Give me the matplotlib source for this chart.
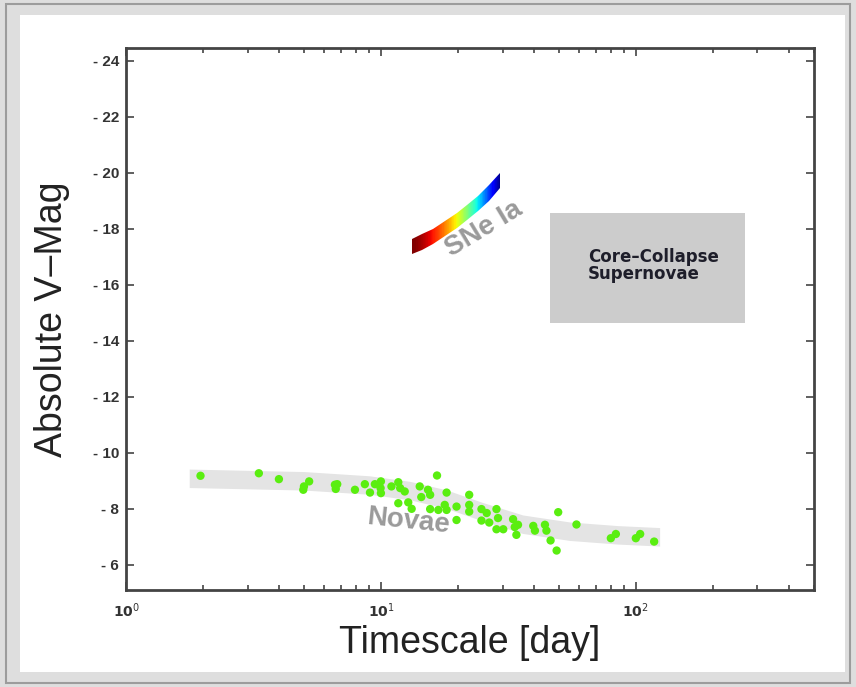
import numpy as np
import matplotlib
matplotlib.use("Agg")
import matplotlib.pyplot as plt
from matplotlib.patches import Rectangle, Polygon
from matplotlib.ticker import FixedLocator, FuncFormatter, LogLocator, NullLocator

plt.rcParams['font.family'] = ['Liberation Sans', 'DejaVu Sans']

# novae: timescale (days) and absolute V magnitude
nova_t = [1.96, 3.32, 3.98, 5.23, 4.99, 4.96, 6.60, 6.65, 6.74, 7.91,
          8.65, 9.06, 9.47, 10.0, 9.97, 10.0, 11.0, 11.7, 11.9, 12.4,
          11.7, 12.8, 13.2, 14.2, 14.4, 15.3, 15.6, 16.6, 18.1, 15.6,
          16.8, 17.8, 18.1, 19.8, 19.8, 22.2, 22.2, 22.2, 24.8, 26.0,
          24.8, 26.6, 28.4, 28.8, 28.4, 30.2, 33.0, 33.5, 34.0, 34.5,
          39.6, 40.2, 44.0, 44.6, 49.6, 46.3, 48.9, 58.5, 79.8, 83.5,
          100.0, 104.0, 118.0]
nova_mag = [-9.18, -9.27, -9.06, -8.98, -8.80, -8.68, -8.86, -8.71, -8.88, -8.68,
            -8.88, -8.58, -8.88, -8.98, -8.74, -8.56, -8.80, -8.95, -8.74, -8.62,
            -8.20, -8.23, -8.00, -8.80, -8.42, -8.68, -8.50, -9.19, -8.58, -7.99,
            -7.96, -8.14, -7.96, -8.08, -7.60, -8.50, -8.14, -7.90, -7.99, -7.85,
            -7.58, -7.51, -7.99, -7.67, -7.27, -7.27, -7.63, -7.35, -7.07, -7.43,
            -7.39, -7.22, -7.43, -7.22, -7.88, -6.87, -6.51, -7.44, -6.95, -7.10,
            -6.95, -7.10, -6.83]

# gray band following the novae
band_t = [1.77, 5.0, 9.0, 13.0, 18.0, 25.0, 36.0, 55.0, 85.0, 124.0]
band_mag = [-9.09, -9.00, -8.85, -8.65, -8.35, -7.90, -7.45, -7.20, -7.07, -7.00]
band_half = 0.33

# SNe Ia track (centre line)
snia_t = [13.2, 14.5, 16.0, 17.8, 19.8, 21.8, 24.0, 26.5, 29.3]
snia_mag = [-17.38, -17.53, -17.74, -18.00, -18.30, -18.58, -18.90, -19.28, -19.73]
snia_half = 0.27

# core-collapse region
cc_t = [46.0, 267.0]
cc_mag = [-18.57, -14.64]

yticks = [-24, -22, -20, -18, -16, -14, -12, -10, -8, -6]

W, H = 856, 687
fig = plt.figure(figsize=(W / 100, H / 100), dpi=100)
fig.patch.set_facecolor('#dedede')
fig.patches.append(Rectangle((6 / W, 4 / H), 844 / W, 679 / H, transform=fig.transFigure,
                             fill=False, edgecolor='#9c9c9c', lw=1.5, zorder=-2))
fig.patches.append(Rectangle((20 / W, 15 / H), 825 / W, 657 / H, transform=fig.transFigure,
                             facecolor='white', edgecolor='none', zorder=-1))

ax = fig.add_axes([126 / W, 97 / H, 688 / W, 542 / H])
ax.set_xscale('log')
ax.set_xlim(1, 500)
ax.set_ylim(-5.1, -24.46)

# novae band + points
bm = np.array(band_mag)
ax.fill_between(band_t, bm - band_half, bm + band_half, color='#e4e4e4', lw=0, zorder=1)
ax.scatter(nova_t, nova_mag, s=36, color='#5aee10', edgecolors='none', zorder=3)

# SNe Ia coloured track
sm = np.array(snia_mag)
verts = list(zip(snia_t, sm - snia_half)) + list(zip(snia_t[::-1], (sm + snia_half)[::-1]))
track = Polygon(verts, closed=True, transform=ax.transData)
xs = np.geomspace(12.5, 31, 160)
u = np.clip((np.log10(xs[:-1]) - np.log10(13.2)) / (np.log10(29.3) - np.log10(13.2)), 0, 1)
mesh = ax.pcolormesh(xs, [-21, -16.5], (1 - u ** 1.5)[None, :], cmap='jet', vmin=0, vmax=1,
                     shading='flat', zorder=2)
mesh.set_clip_path(track)

# core-collapse box
ax.add_patch(Rectangle((cc_t[0], cc_mag[0]), cc_t[1] - cc_t[0], cc_mag[1] - cc_mag[0],
                       facecolor='#cccccc', edgecolor='none', zorder=1))
ax.text(64.8, -16.68, 'Core\u2013Collapse\nSupernovae', fontsize=12, fontweight='bold',
        family=['DejaVu Sans'], ha='left', va='center', linespacing=0.95, color='#1e1e2a')

ax.text(25.3, -18.0, 'SNe Ia', rotation=31, color='#9a9a9a', fontsize=20,
        fontweight='bold', ha='center', va='center', zorder=4)
ax.text(12.8, -7.55, 'Novae', rotation=-6, color='#9a9a9a', fontsize=20,
        fontweight='bold', ha='center', va='center', zorder=4)

# axes styling
ax.yaxis.set_major_locator(FixedLocator(yticks))
ax.yaxis.set_minor_locator(NullLocator())
ax.yaxis.set_major_formatter(FuncFormatter(lambda v, p: '- %d' % abs(v)))
ax.xaxis.set_major_locator(LogLocator(base=10, numticks=10))
ax.xaxis.set_minor_locator(LogLocator(base=10, subs=np.arange(2, 10), numticks=20))
ax.xaxis.set_major_formatter(FuncFormatter(lambda v, p: r'$\mathbf{10}^{%d}$' % round(np.log10(v))))

ax.tick_params(which='both', direction='in', top=True, right=True, color='#444444', width=1.2)
ax.tick_params(which='major', length=6)
ax.tick_params(which='minor', length=3.5)
ax.tick_params(axis='y', labelsize=11, labelcolor='#333333', pad=5)
ax.tick_params(axis='x', labelsize=10, labelcolor='#333333', pad=8)
for lab in ax.get_yticklabels():
    lab.set_fontweight('bold')
for s in ax.spines.values():
    s.set_linewidth(2)
    s.set_color('#444444')

ax.set_xlabel('Timescale [day]', fontsize=27, labelpad=4, color='#222222')
ax.set_ylabel('Absolute V\u2013Mag', fontsize=27, labelpad=16, color='#222222')

fig.savefig('out.png', dpi=100, facecolor=fig.get_facecolor())
